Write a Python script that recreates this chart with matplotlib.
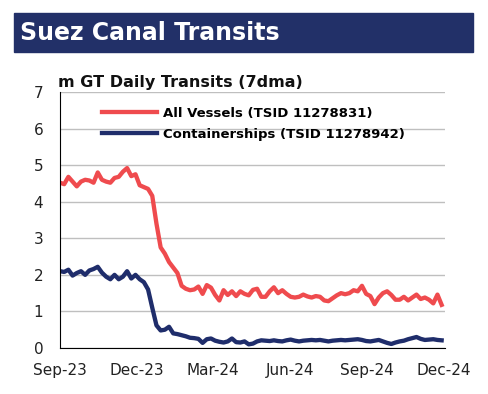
import matplotlib
matplotlib.use("Agg")
import matplotlib.pyplot as plt
import matplotlib.dates as mdates
from matplotlib.patches import Rectangle
import pandas as pd

# 7dma readings every 5 days from 1 Sep 2023, m GT
dates = pd.date_range("2023-09-01", periods=92, freq="5D")

all_vessels = [
    4.52, 4.48, 4.68, 4.55, 4.42, 4.55, 4.60, 4.58, 4.52, 4.80,
    4.60, 4.55, 4.52, 4.65, 4.68, 4.82, 4.92, 4.70, 4.75, 4.45,
    4.40, 4.35, 4.16, 3.40, 2.75, 2.58, 2.35, 2.20, 2.05, 1.70,
    1.62, 1.58, 1.60, 1.68, 1.48, 1.72, 1.65, 1.45, 1.30, 1.58,
    1.45, 1.55, 1.42, 1.55, 1.48, 1.44, 1.59, 1.62, 1.40, 1.40,
    1.55, 1.66, 1.50, 1.58, 1.48, 1.40, 1.38, 1.40, 1.46, 1.41,
    1.38, 1.42, 1.40, 1.30, 1.28, 1.36, 1.44, 1.50, 1.47, 1.50,
    1.58, 1.55, 1.70, 1.48, 1.42, 1.20, 1.38, 1.50, 1.55, 1.45,
    1.32, 1.32, 1.40, 1.30, 1.38, 1.46, 1.34, 1.38, 1.32, 1.22,
    1.46, 1.18,
]

containerships = [
    2.10, 2.08, 2.14, 1.98, 2.05, 2.10, 2.00, 2.12, 2.16, 2.22,
    2.06, 1.95, 1.88, 2.00, 1.88, 1.95, 2.10, 1.90, 2.00, 1.88,
    1.80, 1.60, 1.10, 0.62, 0.48, 0.50, 0.58, 0.40, 0.38, 0.35,
    0.32, 0.28, 0.27, 0.25, 0.14, 0.24, 0.26, 0.20, 0.17, 0.15,
    0.18, 0.26, 0.16, 0.15, 0.18, 0.10, 0.12, 0.18, 0.21, 0.20,
    0.19, 0.21, 0.19, 0.18, 0.21, 0.23, 0.20, 0.18, 0.20, 0.21,
    0.22, 0.21, 0.22, 0.20, 0.18, 0.20, 0.21, 0.22, 0.21, 0.22,
    0.23, 0.24, 0.22, 0.19, 0.18, 0.20, 0.22, 0.18, 0.14, 0.11,
    0.15, 0.18, 0.20, 0.24, 0.27, 0.30, 0.25, 0.22, 0.23, 0.24,
    0.22, 0.21,
]

tick_dates = ["2023-09-01", "2023-12-01", "2024-03-01",
              "2024-06-01", "2024-09-01", "2024-12-01"]

RED = "#EF4B4E"
NAVY = "#1F2D6B"
BANNER = "#223068"

plt.rcParams["font.family"] = "DejaVu Sans"

fig = plt.figure(figsize=(4.89, 3.94), dpi=100)

# title banner
fig.patches.append(Rectangle((14 / 489, 1 - 52 / 394), 459 / 489, 39 / 394,
                             transform=fig.transFigure, color=BANNER, zorder=0))
fig.text(20 / 489, 1 - 33 / 394, "Suez Canal Transits", color="white",
         fontsize=17, fontweight="bold", va="center", ha="left")

ax = fig.add_axes([60 / 489, 1 - 348 / 394, 385 / 489, 256 / 394])
ax.plot(dates, all_vessels, color=RED, lw=3.1, label="All Vessels (TSID 11278831)")
ax.plot(dates, containerships, color=NAVY, lw=3.1, label="Containerships (TSID 11278942)")

ax.set_ylim(0, 7)
ax.set_yticks(range(0, 8))
ax.set_xlim(pd.Timestamp("2023-09-01"), pd.Timestamp("2024-12-03"))
ax.set_xticks(pd.to_datetime(tick_dates))
ax.xaxis.set_major_formatter(mdates.DateFormatter("%b-%y"))

ax.grid(axis="y", color="#BFBFBF", lw=1)
ax.set_axisbelow(True)
for side in ["top", "right"]:
    ax.spines[side].set_visible(False)
ax.spines["left"].set_color("black")
ax.spines["bottom"].set_color("black")
ax.tick_params(length=0, labelsize=11, colors="#222222")
ax.tick_params(axis="y", pad=12)
ax.tick_params(axis="x", pad=11)

fig.text(58 / 489, 1 - 82 / 394, "m GT Daily Transits (7dma)", fontsize=11.5,
         fontweight="bold", va="center", ha="left", color="#111111")

ax.legend(loc="upper left", bbox_to_anchor=(42 / 385, 1 - 15 / 256), frameon=False,
          handlelength=4.2, handletextpad=0.4, labelspacing=0.6,
          borderpad=0, borderaxespad=0, prop={"weight": "bold", "size": 9.5})

fig.savefig("out.png", dpi=100)
